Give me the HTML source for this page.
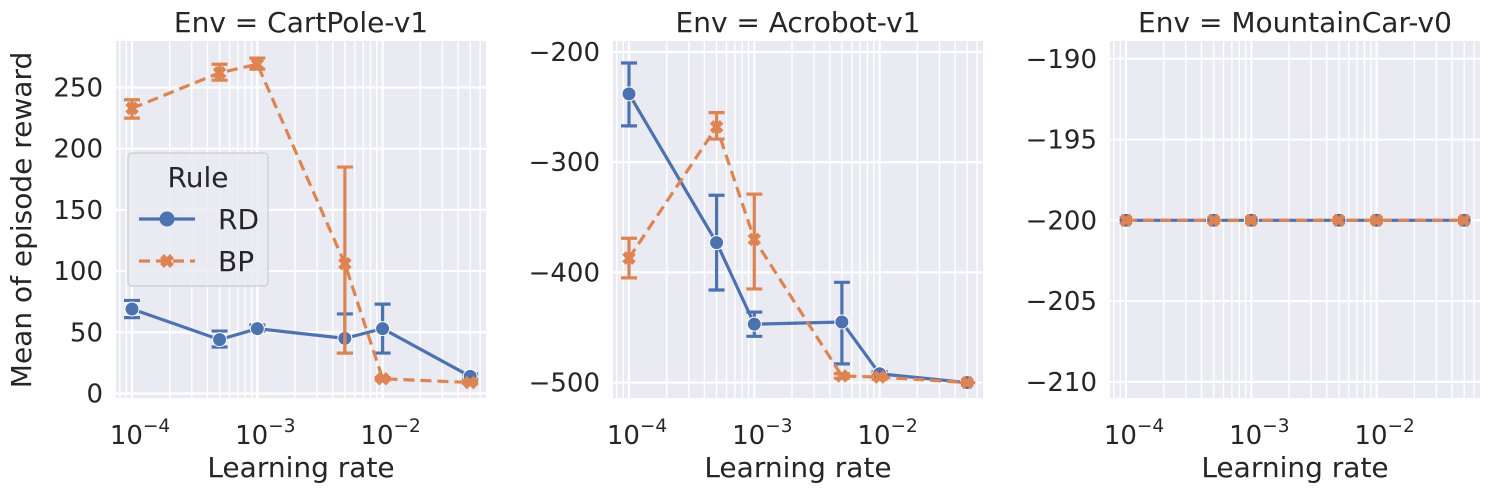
<!DOCTYPE html>
<html><head><meta charset="utf-8"><style>
body{margin:0;background:#fff;}
svg{display:block;font-family:"DejaVu Sans","Liberation Sans",sans-serif;}
</style></head><body>
<svg id="fig" width="1489" height="491" viewBox="0 0 1489 491"></svg>
<script>
const lrs=[1e-4,5e-4,1e-3,5e-3,1e-2,5e-2];
const cpRD=[69,44,53,45,53,14];
const cpRDlo=[62,38,51,33,33,12];
const cpRDhi=[76,51,56,65,73,16];
const cpBP=[233,262,269,106,12,9];
const cpBPlo=[225,256,265,33,11,8];
const cpBPhi=[240,269,274,185,13,10];
const acRD=[-238,-373,-447,-445,-492,-500];
const acRDlo=[-267,-416,-458,-483,-494,-500];
const acRDhi=[-210,-330,-436,-409,-490,-500];
const acBP=[-387,-268,-370,-494,-495,-500];
const acBPlo=[-405,-279,-415,-496,-497,-500];
const acBPhi=[-369,-255,-329,-492,-493,-500];
const mcRD=[-200,-200,-200,-200,-200,-200];
const mcBP=[-200,-200,-200,-200,-200,-200];
const cpTicks=[0,50,100,150,200,250];
const acTicks=[-500,-400,-300,-200];
const mcTicks=[-210,-205,-200,-195,-190];
const xTicks=[-4,-3,-2];

const NS="http://www.w3.org/2000/svg";
const fig=document.getElementById('fig');
function mk(tag,attrs,parent){const e=document.createElementNS(NS,tag);for(const k in attrs)e.setAttribute(k,attrs[k]);(parent||fig).appendChild(e);return e;}
const BLUE="#4c72b0",ORANGE="#dd8452",TXT="#262626";
const FS=26;

const panels=[
 {name:'cartpole',title:'Env = CartPole-v1',left:116,ymin:-3.7,ymax:288,ticks:cpTicks,rd:[cpRD,cpRDlo,cpRDhi],bp:[cpBP,cpBPlo,cpBPhi]},
 {name:'acrobot',title:'Env = Acrobot-v1',left:613,ymin:-514,ymax:-190,ticks:acTicks,rd:[acRD,acRDlo,acRDhi],bp:[acBP,acBPlo,acBPhi]},
 {name:'mountaincar',title:'Env = MountainCar-v0',left:1110,ymin:-211,ymax:-188.9,ticks:mcTicks,rd:[mcRD,null,null],bp:[mcBP,null,null]}
];
const TOP=41,BOT=398,W=370,DEC=125.3,X0=16;
panels.forEach(p=>{
 const g=mk('g',{});
 
 
 const xs=v=>p.left+X0+(Math.log10(v)+4)*DEC;
 const ys=v=>BOT-(v-p.ymin)/(p.ymax-p.ymin)*(BOT-TOP);
 const bg=mk('rect',{x:p.left,y:TOP,width:W,height:BOT-TOP,fill:'#eaeaf2'},g);
 
 
 const clip=mk('clipPath',{id:'c'+p.name},g);mk('rect',{x:p.left,y:TOP,width:W,height:BOT-TOP},clip);
 const grid=mk('g',{'clip-path':'url(#c'+p.name+')'},g);
 
 
 for(let d=-5;d<=-1;d++)for(let m=1;m<=9;m++){
   const v=m*Math.pow(10,d);const x=xs(v);
   if(x<p.left||x>p.left+W)continue;
   mk('line',{x1:x,x2:x,y1:TOP,y2:BOT,stroke:'#fff','stroke-width':m==1?2.2:1.4},grid);
 }
 p.ticks.forEach(t=>{
   const y=ys(t);mk('line',{x1:p.left,x2:p.left+W,y1:y,y2:y,stroke:'#fff','stroke-width':2.2},grid);
   const tl=mk('text',{x:p.left-13,y:y+9,'text-anchor':'end','font-size':FS,fill:TXT},g);tl.textContent=(t<0?'\u2212'+(-t):t);
   
   
 });
 xTicks.forEach(e=>{
   const x=xs(Math.pow(10,e));
   const tl=mk('text',{x:x+8,y:444,'text-anchor':'middle','font-size':FS,fill:TXT},g);
   tl.innerHTML='10<tspan dy="-12" font-size="18.5">\u2212'+(-e)+'</tspan>';
   
   
 });
 const xl=mk('text',{x:p.left+W/2,y:477,'text-anchor':'middle','font-size':28,fill:TXT},g);xl.textContent='Learning rate';
 
 
 const tt=mk('text',{x:p.left+W/2,y:32,'text-anchor':'middle','font-size':28,fill:TXT},g);tt.textContent=p.title;
 
 
 [[p.rd,BLUE,'rd',null],[p.bp,ORANGE,'bp','11,6']].forEach(([s,col,nm,dash])=>{
   const sg=mk('g',{'clip-path':'url(#c'+p.name+')'},g);
   
   
   const pts=lrs.map((v,i)=>xs(v)+','+ys(s[0][i])).join(' ');
   const pl=mk('polyline',{points:pts,fill:'none',stroke:col,'stroke-width':3.2},sg);
   if(dash)pl.setAttribute('stroke-dasharray',dash);
   
   
   lrs.forEach((v,i)=>{
     const x=xs(v),y=ys(s[0][i]);
     if(s[1]){const y1=ys(s[1][i]),y2=ys(s[2][i]);
       const eb=mk('path',{d:`M${x},${y1}V${y2}M${x-8},${y1}H${x+8}M${x-8},${y2}H${x+8}`,stroke:col,'stroke-width':3.2,fill:'none'},sg);
       
       }
     let mEl;
     if(nm=='rd')mEl=mk('circle',{cx:x,cy:y,r:7,fill:col,stroke:'#fff','stroke-width':1},sg);
     else mEl=mk('path',{d:`M${x-5},${y-5}L${x+5},${y+5}M${x+5},${y-5}L${x-5},${y+5}`,stroke:col,'stroke-width':5},sg);
     
     
   });
 });
});
const yl=mk('text',{x:0,y:0,transform:'translate(31,220) rotate(-90)','text-anchor':'middle','font-size':28,fill:TXT});
yl.textContent='Mean of episode reward';


// legend
const lg=mk('g',{});


mk('rect',{x:128,y:153,width:140,height:133,rx:4,fill:'#eaeaf2','fill-opacity':0.85,stroke:'#cccccc','stroke-width':1.2},lg);
const lt=mk('text',{x:198,y:187,'text-anchor':'middle','font-size':28,fill:TXT},lg);lt.textContent='Rule';


mk('line',{x1:139,x2:195,y1:219,y2:219,stroke:BLUE,'stroke-width':3.2},lg);
mk('circle',{cx:167,cy:219,r:7.5,fill:BLUE},lg);
const l1=mk('text',{x:218,y:229,'font-size':28,fill:TXT},lg);l1.textContent='RD';


mk('line',{x1:139,x2:195,y1:261,y2:261,stroke:ORANGE,'stroke-width':3.2,'stroke-dasharray':'11,6'},lg);
mk('path',{d:'M162,256L172,266M172,256L162,266',stroke:ORANGE,'stroke-width':5.5},lg);
const l2=mk('text',{x:218,y:271,'font-size':28,fill:TXT},lg);l2.textContent='BP';


</script>
</body></html>
